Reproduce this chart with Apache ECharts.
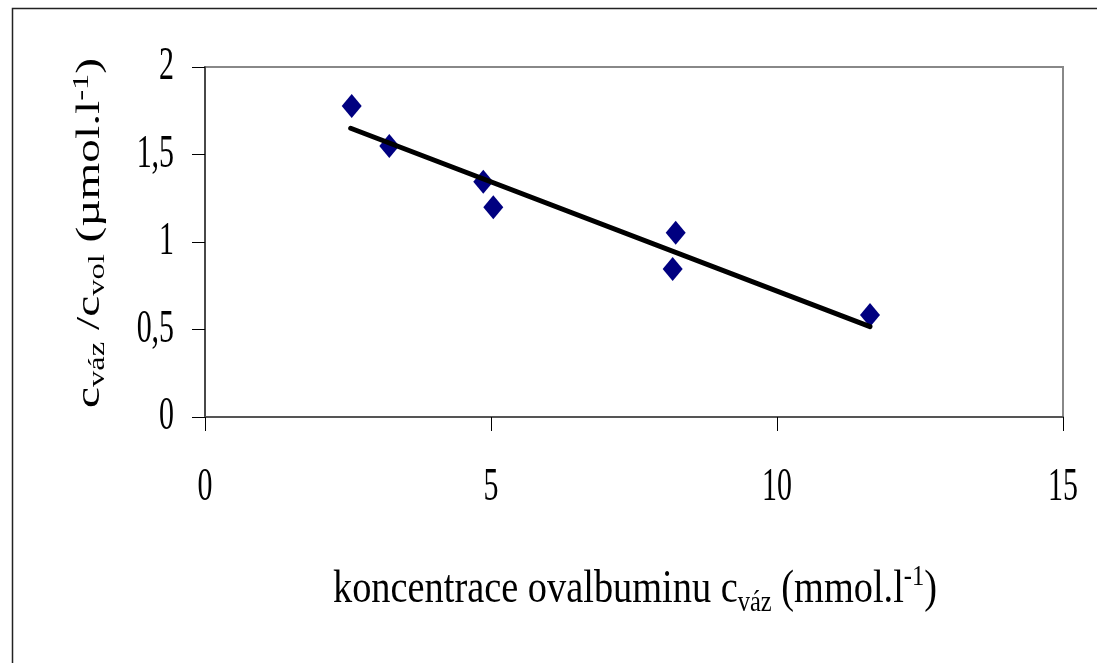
<!DOCTYPE html>
<html><head><meta charset="utf-8">
<script src="https://cdn.jsdelivr.net/npm/echarts@6/dist/echarts.min.js"></script>
<style>html,body{margin:0;padding:0;background:#fff}#c{width:1097px;height:663px}</style>
</head><body><div id="c"></div>
<script>
// ---- data ----
const xTicks = [0, 5, 10, 15];
const xTickLabels = ['0', '5', '10', '15'];
const yTicks = [0, 0.5, 1, 1.5, 2];
const yTickLabels = ['0', '0,5', '1', '1,5', '2'];
const concX = [2.565, 3.222, 4.865, 5.04, 8.176, 8.229, 11.626];
const ratioY = [1.777, 1.549, 1.345, 1.198, 0.846, 1.053, 0.583];
const trendX = [2.547, 11.626];
const trendY = [1.650, 0.516];
const xTitleParts = [['koncentrace ovalbuminu c', 'a'], ['váz', 's'], [' (mmol.l', 'a'], ['-1', 'p'], [')', 'a']];
const yTitleParts = [['c', 'a'], ['váz', 's'], [' /c', 'a'], ['vol', 's'], [' (µmol.l', 'a'], ['-1', 'p'], [')', 'a']];

const FONT = '"Liberation Serif"';
const chart = echarts.init(document.getElementById('c'), null, {renderer: 'canvas'});
chart.setOption({
  animation: false,
  backgroundColor: '#fff',
  grid: {left: 205, right: 34, top: 67, bottom: 246, show: true, borderColor: '#888', borderWidth: 2, backgroundColor: 'transparent'},
  xAxis: {type: 'value', min: 0, max: 15, interval: 5,
    axisLine: {onZero: false, lineStyle: {color: '#555', width: 2}},
    axisTick: {show: true, length: 14, lineStyle: {color: '#000', width: 1}},
    axisLabel: {show: false}, splitLine: {show: false}},
  yAxis: {type: 'value', min: 0, max: 2, interval: 0.5,
    axisLine: {show: true, onZero: false, lineStyle: {color: '#333', width: 1.5}},
    axisTick: {show: true, length: 13, lineStyle: {color: '#000', width: 1}},
    axisLabel: {show: false}, splitLine: {show: false}},
  series: [
    {type: 'scatter', data: concX.map((x, i) => [x, ratioY[i]]), symbol: 'diamond', symbolSize: [20, 24],
      itemStyle: {color: '#000080', opacity: 1}, z: 2},
    {type: 'line', data: trendX.map((x, i) => [x, trendY[i]]), symbol: 'none',
      lineStyle: {color: '#000', width: 5, cap: 'round'}, z: 3}
  ]
});

const mctx = document.createElement('canvas').getContext('2d');
function measure(parts, sizes) {
  let w = 0;
  parts.forEach(([t, k]) => { mctx.font = sizes[k] + 'px ' + FONT; w += mctx.measureText(t).width; });
  return w;
}
function richText(parts) { return parts.map(([t, k]) => '{' + k + '|' + t + '}').join(''); }
function richStyles(sizes, lh) {
  const base = {fontFamily: FONT, fontWeight: 'normal', fontStyle: 'normal', fill: '#000'};
  return {
    a: Object.assign({fontSize: sizes.a, lineHeight: lh, verticalAlign: 'middle'}, base),
    s: Object.assign({fontSize: sizes.s, lineHeight: sizes.s, verticalAlign: 'bottom'}, base),
    p: Object.assign({fontSize: sizes.p, lineHeight: sizes.p, verticalAlign: 'top'}, base)
  };
}

const xs = {a: 47, s: 30, p: 30};
const ys = {a: 48, s: 33, p: 33};
const xScale = 604 / measure(xTitleParts, xs);
const yScale = 350 / measure(yTitleParts, ys);
const TICK_SCALE = 0.65;

const elements = [];
elements.push({type: 'rect', silent: true, shape: {x: 12.5, y: 8.5, width: 1300, height: 900},
  style: {fill: 'none', stroke: '#222', lineWidth: 1.5}, z: 10});
yTicks.forEach((v, i) => {
  const p = chart.convertToPixel({gridIndex: 0}, [0, v]);
  elements.push({type: 'text', x: 174, y: p[1], scaleX: TICK_SCALE, silent: true,
    style: {text: yTickLabels[i], fontSize: 46, fontFamily: FONT, fontWeight: 'normal', fill: '#000', align: 'right', verticalAlign: 'middle'}});
});
xTicks.forEach((v, i) => {
  const p = chart.convertToPixel({gridIndex: 0}, [v, 0]);
  elements.push({type: 'text', x: p[0], y: 488, scaleX: TICK_SCALE, silent: true,
    style: {text: xTickLabels[i], fontSize: 46, fontFamily: FONT, fontWeight: 'normal', fill: '#000', align: 'center', verticalAlign: 'middle'}});
});
elements.push({type: 'text', x: 635, y: 590, scaleX: xScale, silent: true,
  style: {text: richText(xTitleParts), rich: richStyles(xs, 56), fontFamily: FONT, fontWeight: 'normal', align: 'center', verticalAlign: 'middle', fill: '#000'}});
elements.push({type: 'text', x: 90, y: 233, rotation: Math.PI / 2, scaleX: yScale, scaleY: 0.7, silent: true,
  style: {text: richText(yTitleParts), rich: richStyles(ys, 56), fontFamily: FONT, fontWeight: 'normal', align: 'center', verticalAlign: 'middle', fill: '#000'}});

chart.setOption({graphic: {elements: elements}});
</script>
</body></html>
